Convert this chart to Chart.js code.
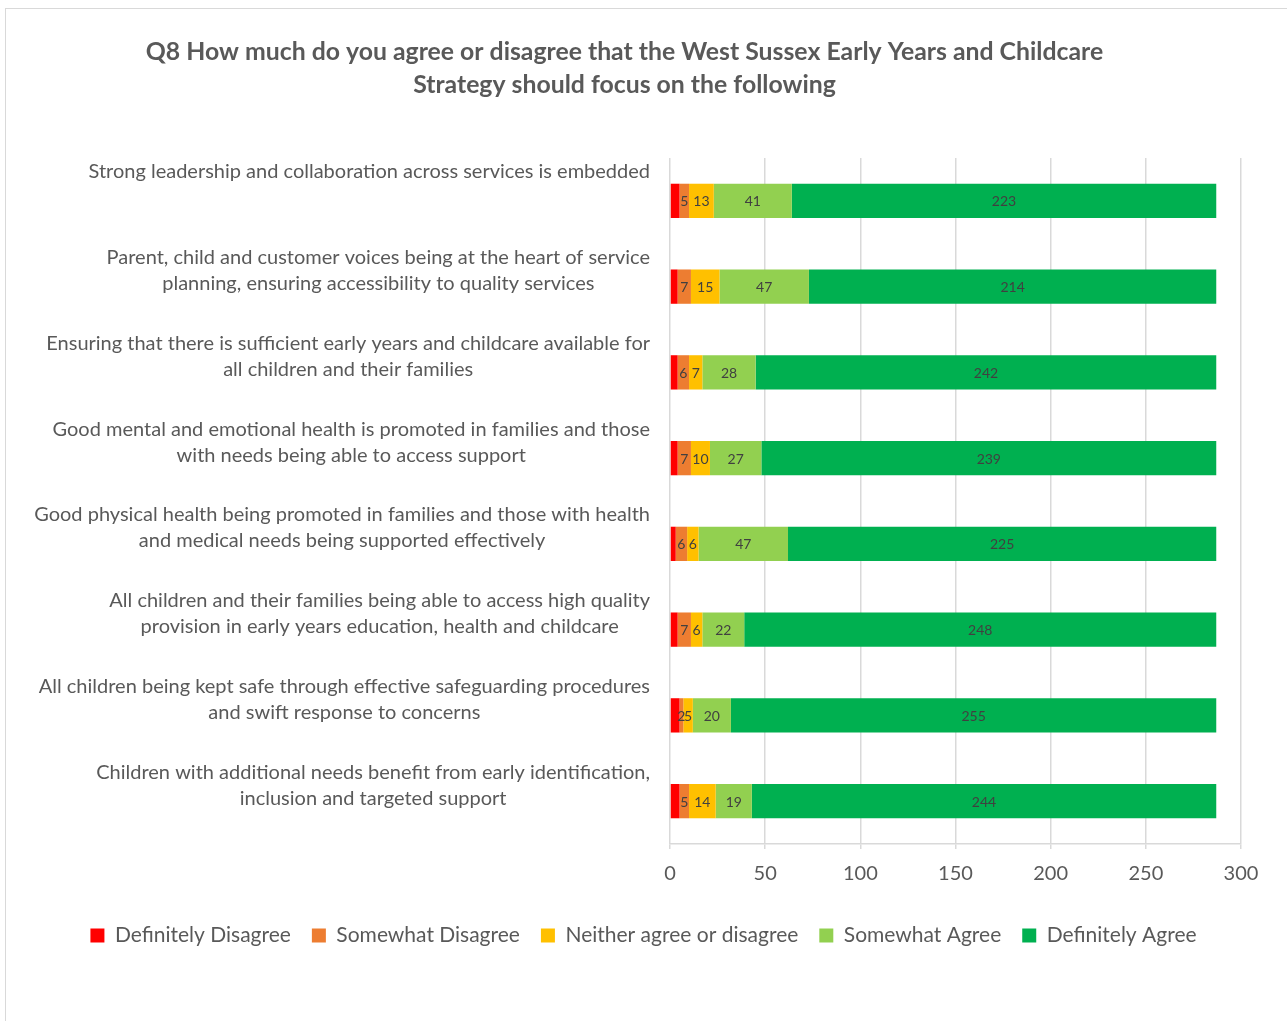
<!DOCTYPE html>
<html>
<head>
<meta charset="utf-8">
<script src="https://cdn.jsdelivr.net/npm/chart.js@4"></script>
<style>
  html, body { margin: 0; padding: 0; width: 1287px; height: 1021px; overflow: hidden; background: #ffffff; }
  #frame { position: absolute; left: 5px; top: 8px; width: 1400px; height: 1100px; border: 1.5px solid #d9d9d9; box-sizing: border-box; }
  #wrap { position: absolute; left: 0; top: 0; width: 1287px; height: 1021px; }
</style>
</head>
<body>
<div id="frame"></div>
<div id="wrap"><canvas id="c" width="1287" height="1021"></canvas></div>
<script>
const titleLines = [
  "Q8 How much do you agree or disagree that the West Sussex Early Years and Childcare",
  "Strategy should focus on the following"
];
const categories = [
  ["Strong leadership and collaboration across services is embedded"],
  ["Parent, child and customer voices being at the heart of service", "planning, ensuring accessibility to quality services"],
  ["Ensuring that there is sufficient early years and childcare available for", "all children and their families"],
  ["Good mental and emotional health is promoted in families and those", "with needs being able to access support"],
  ["Good physical health being promoted in families and those with health", "and medical needs being supported effectively"],
  ["All children and their families being able to access high quality", "provision in early years education, health and childcare"],
  ["All children being kept safe through effective safeguarding procedures", "and swift response to concerns"],
  ["Children with additional needs benefit from early identification,", "inclusion and targeted support"]
];
const seriesNames = ["Definitely Disagree", "Somewhat Disagree", "Neither agree or disagree", "Somewhat Agree", "Definitely Agree"];
const definitelyDisagree = [5, 4, 4, 4, 3, 4, 5, 5];
const somewhatDisagree   = [5, 7, 6, 7, 6, 7, 2, 5];
const neitherAgree       = [13, 15, 7, 10, 6, 6, 5, 14];
const somewhatAgree      = [41, 47, 28, 27, 47, 22, 20, 19];
const definitelyAgree    = [223, 214, 242, 239, 225, 248, 255, 244];
const xTicks = [0, 50, 100, 150, 200, 250, 300];

const colors = ["#FF0000", "#ED7D31", "#FFC000", "#92D050", "#00B050"];
const allSeries = [definitelyDisagree, somewhatDisagree, neitherAgree, somewhatAgree, definitelyAgree];
const showLabels = [false, true, true, true, true];

const FONT = "Lato, 'Open Sans', sans-serif";
const GREY = "#595959";

const labelsPlugin = {
  id: 'customText',
  afterDraw(chart) {
    const ctx = chart.ctx;
    ctx.save();
    // Title
    ctx.fillStyle = GREY;
    ctx.font = "bold 24.8px " + FONT;
    ctx.textAlign = 'center';
    ctx.textBaseline = 'middle';
    ctx.fillText(titleLines[0], 624.5, 52);
    ctx.fillText(titleLines[1], 624.5, 85);
    // Category labels
    const yScale = chart.scales.y;
    ctx.font = "20px " + FONT;
    categories.forEach((lines, i) => {
      const cy = yScale.getPixelForValue(i);
      let w = 0;
      lines.forEach(l => { w = Math.max(w, ctx.measureText(l).width); });
      const right = chart.chartArea.left - 20;
      const cx = right - w / 2;
      lines.forEach((l, k) => {
        ctx.fillText(l, cx, cy - 29 + 26 * k);
      });
    });
    // Data labels
    ctx.font = "14px " + FONT;
    ctx.fillStyle = "#404040";
    chart.data.datasets.forEach((ds, di) => {
      if (!showLabels[di]) return;
      const meta = chart.getDatasetMeta(di);
      meta.data.forEach((el, j) => {
        const p = el.getCenterPoint();
        ctx.fillText(String(ds.data[j]), p.x, p.y + 1);
      });
    });
    ctx.restore();
  }
};

new Chart(document.getElementById('c'), {
  type: 'bar',
  data: {
    labels: categories.map(c => c.join(' ')),
    datasets: allSeries.map((d, i) => ({
      label: seriesNames[i],
      data: d,
      backgroundColor: colors[i],
      borderWidth: 0,
      barPercentage: 0.4,
      categoryPercentage: 1.0
    }))
  },
  options: {
    indexAxis: 'y',
    responsive: false,
    animation: false,
    layout: { padding: { top: 158, left: 0, right: 0, bottom: 65 } },
    plugins: {
      title: { display: false },
      tooltip: { enabled: false },
      legend: {
        display: true,
        position: 'bottom',
        labels: {
          boxWidth: 14,
          boxHeight: 14,
          padding: 21,
          color: GREY,
          font: { family: FONT, size: 21 }
        }
      }
    },
    scales: {
      x: {
        stacked: true,
        min: 0,
        max: 300,
        afterBuildTicks: s => { s.ticks = xTicks.map(v => ({ value: v })); },
        afterFit: s => { s.height = 60; },
        grid: { color: "#d9d9d9", lineWidth: 1.5, tickLength: 5, drawTicks: true },
        border: { display: true, color: "#d9d9d9", width: 1.5 },
        ticks: { color: GREY, padding: 13, font: { family: FONT, size: 20 } }
      },
      y: {
        stacked: true,
        afterFit: s => { s.width = 670; },
        grid: { display: false },
        border: { display: false },
        ticks: { display: false }
      },
      yRight: {
        type: 'linear',
        position: 'right',
        display: true,
        afterFit: s => { s.width = 46; },
        grid: { display: false },
        border: { display: false },
        ticks: { display: false }
      }
    }
  },
  plugins: [labelsPlugin]
});
</script>
</body>
</html>
